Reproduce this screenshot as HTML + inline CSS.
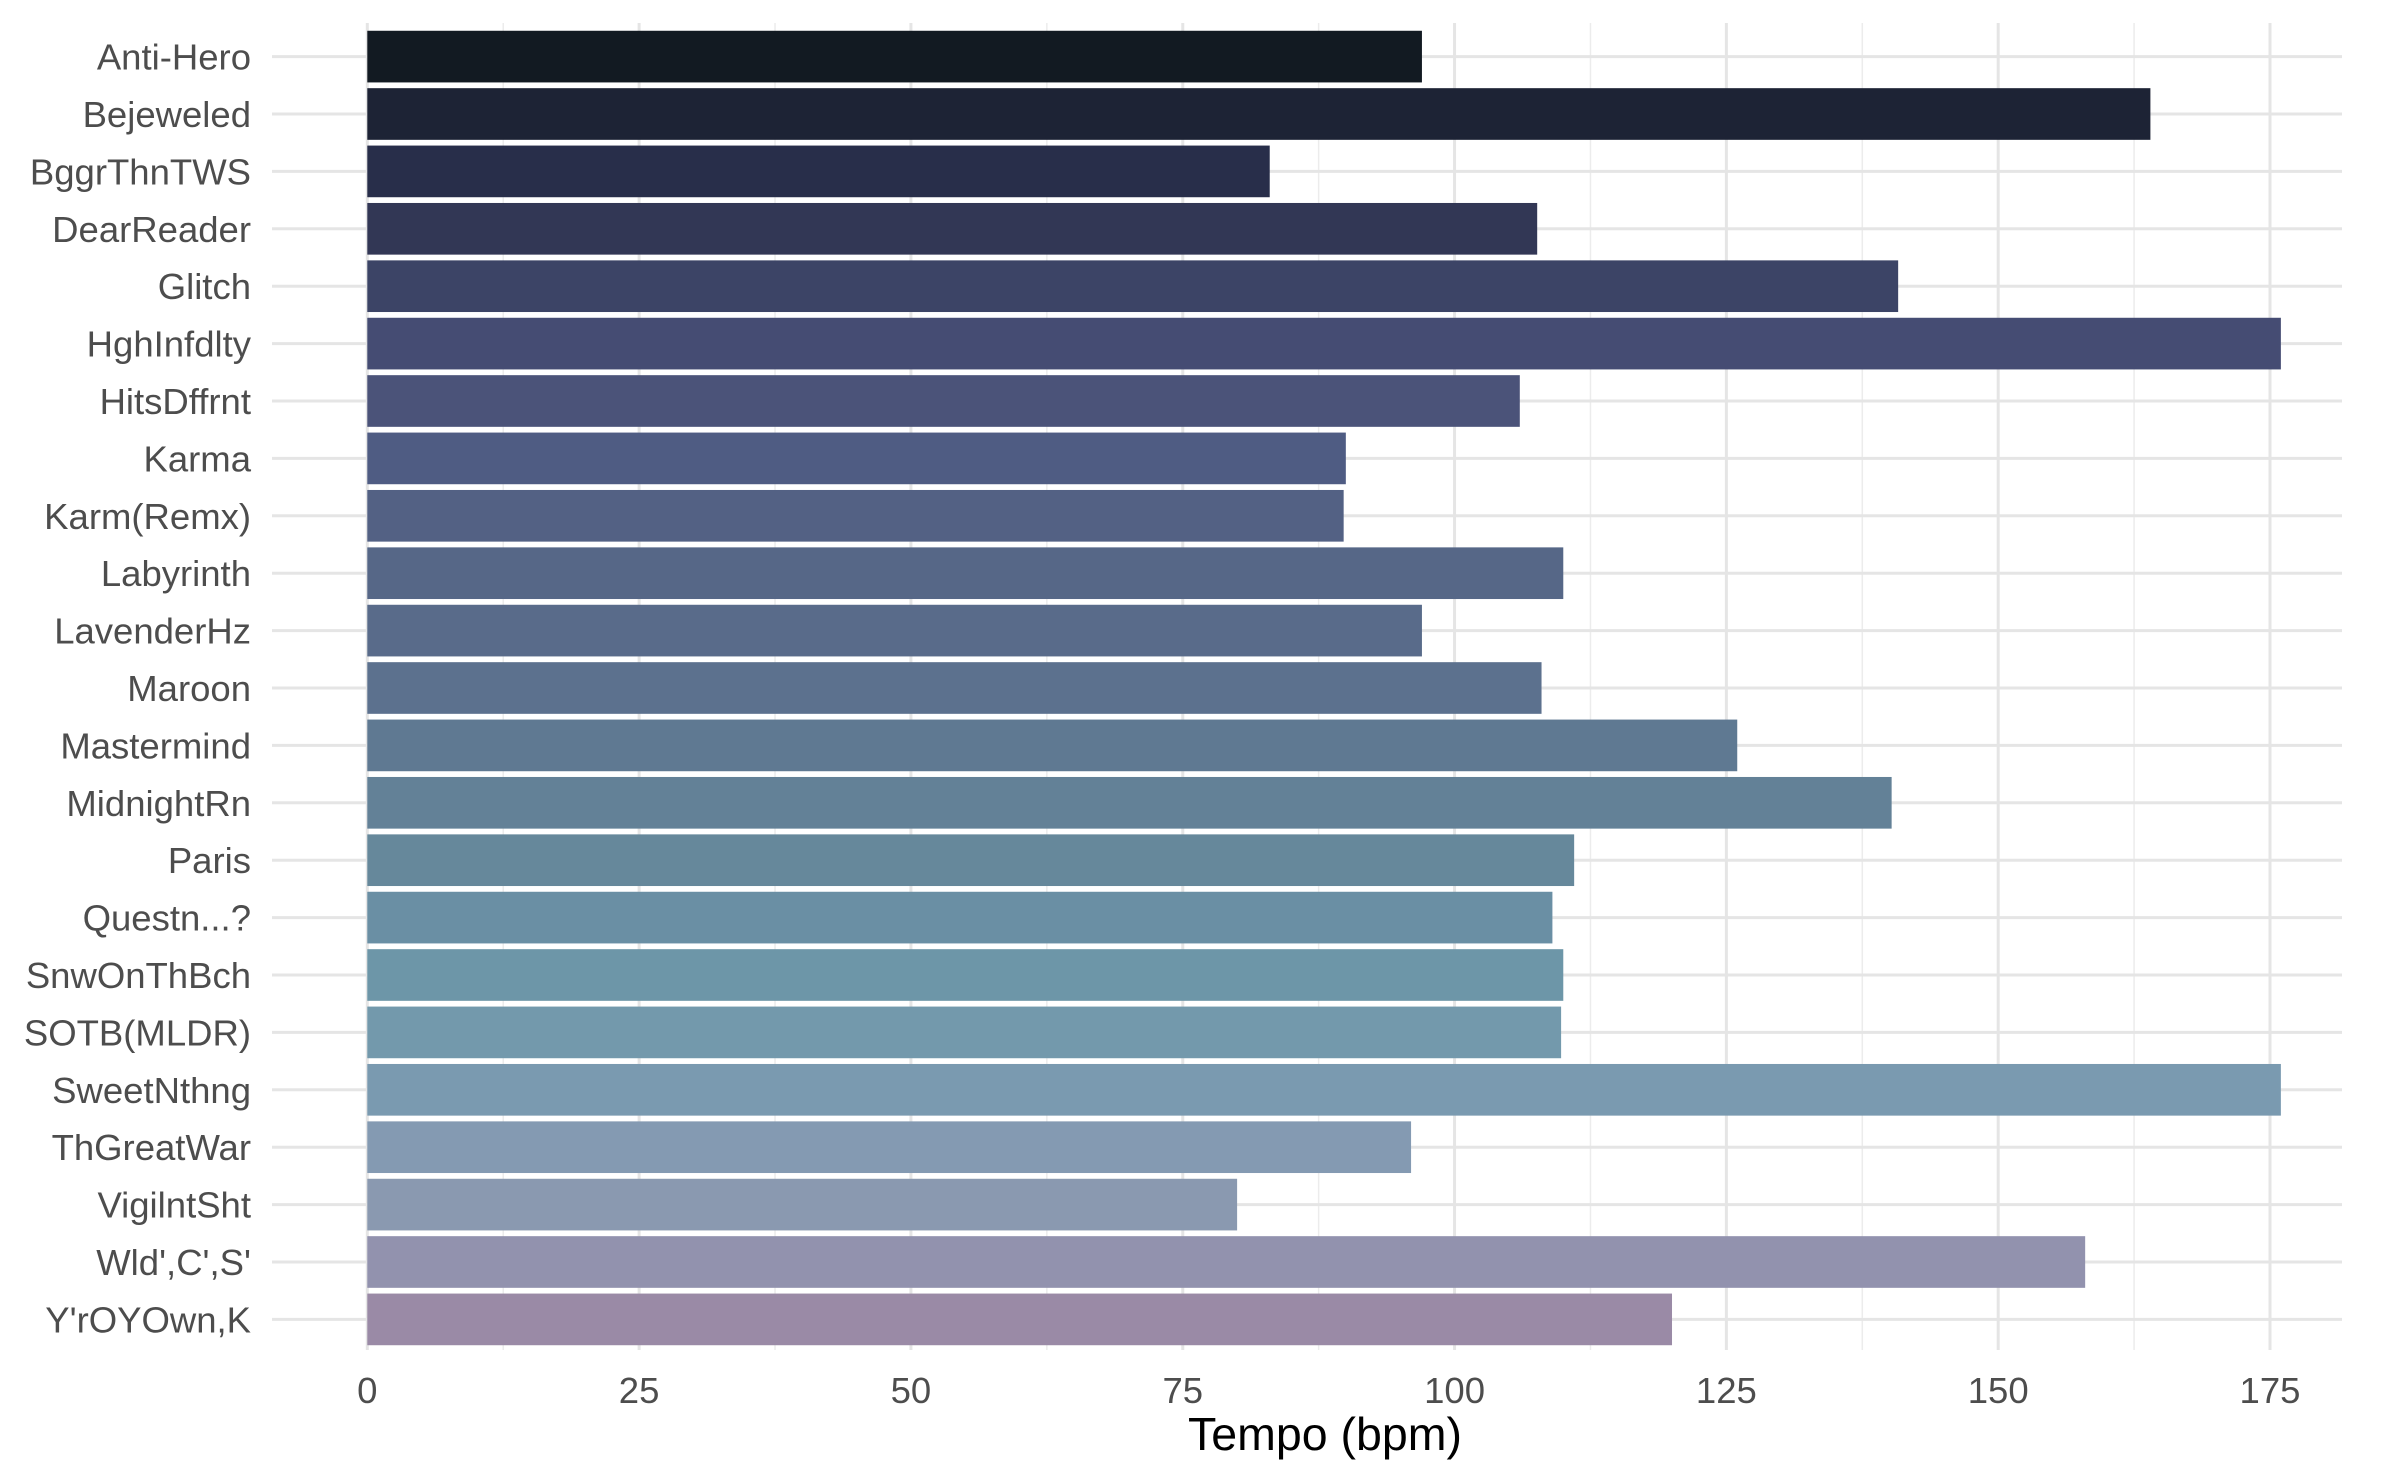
<!DOCTYPE html>
<html><head><meta charset="utf-8"><style>
html,body{margin:0;padding:0;background:#fff;}
svg{display:block;font-family:"Liberation Sans",Arial,sans-serif;}
</style></head><body>
<svg id="chart" width="2400" height="1483" viewBox="0 0 2400 1483" xmlns="http://www.w3.org/2000/svg">
<rect x="0" y="0" width="2400" height="1483" fill="#ffffff"/>
<g id="grid"></g>
<g id="bars"></g>
<g id="ylabels"></g>
<g id="xlabels"></g>
<text x="1325" y="1450" text-anchor="middle" font-size="46.5" fill="#000">Tempo (bpm)</text>
</svg>
<script>
const categories = ["Anti-Hero","Bejeweled","BggrThnTWS","DearReader","Glitch","HghInfdlty","HitsDffrnt","Karma","Karm(Remx)","Labyrinth","LavenderHz","Maroon","Mastermind","MidnightRn","Paris","Questn...?","SnwOnThBch","SOTB(MLDR)","SweetNthng","ThGreatWar","VigilntSht","Wld',C',S'","Y'rOYOwn,K"];
const tempos = [97,164,83,107.6,140.8,176,106,90,89.8,110,97,108,126,140.2,111,109,110,109.8,176,96,80,158,120];
const barColors = ["#121a22","#1d2335","#282e4a","#323755","#3c4466","#454c73","#4b5379","#4f5c83","#536184","#566787","#596b8a","#5c718e","#5f7992","#638197","#66889b","#6a8fa4","#6d96a8","#7399ac","#7a9ab0","#849ab2","#8a99b0","#9292ae","#9a8aa6"];
const xTicks = [0,25,50,75,100,125,150,175];
const xMinor = [12.5,37.5,62.5,87.5,112.5,137.5,162.5];

const NS="http://www.w3.org/2000/svg";
const panelL=272, panelR=2342, panelT=23, panelB=1350;
const x0=367.3, xPer=(2270-367.3)/175;
const yFirst=56.6, yStep=(1319.4-56.6)/(categories.length-1);
const X=v=>x0+v*xPer;
const Y=i=>yFirst+i*yStep;
function mk(tag,attrs,parent){const e=document.createElementNS(NS,tag);for(const k in attrs)e.setAttribute(k,attrs[k]);parent.appendChild(e);return e;}
const grid=document.getElementById('grid');
xMinor.forEach(v=>{const l=mk('line',{x1:X(v),x2:X(v),y1:panelT,y2:panelB,stroke:'#ececec','stroke-width':1.5},grid);

});
xTicks.forEach(v=>{const l=mk('line',{x1:X(v),x2:X(v),y1:panelT,y2:panelB,stroke:'#e5e5e5','stroke-width':3},grid);

});
categories.forEach((c,i)=>{const l=mk('line',{x1:panelL,x2:panelR,y1:Y(i),y2:Y(i),stroke:'#e5e5e5','stroke-width':3},grid);

});
const bars=document.getElementById('bars');
const bh=yStep*0.9;
categories.forEach((c,i)=>{const r=mk('rect',{x:X(0),y:Y(i)-bh/2,width:X(tempos[i])-X(0),height:bh,fill:barColors[i]},bars);

});
const yl=document.getElementById('ylabels');
categories.forEach((c,i)=>{const t=mk('text',{x:251,y:Y(i)+13,'text-anchor':'end','font-size':36.5,fill:'#4d4d4d'},yl);t.textContent=c;

});
const xl=document.getElementById('xlabels');
xTicks.forEach(v=>{const t=mk('text',{x:X(v),y:1403,'text-anchor':'middle','font-size':36.5,fill:'#4d4d4d'},xl);t.textContent=v;

});
</script>
</body></html>
